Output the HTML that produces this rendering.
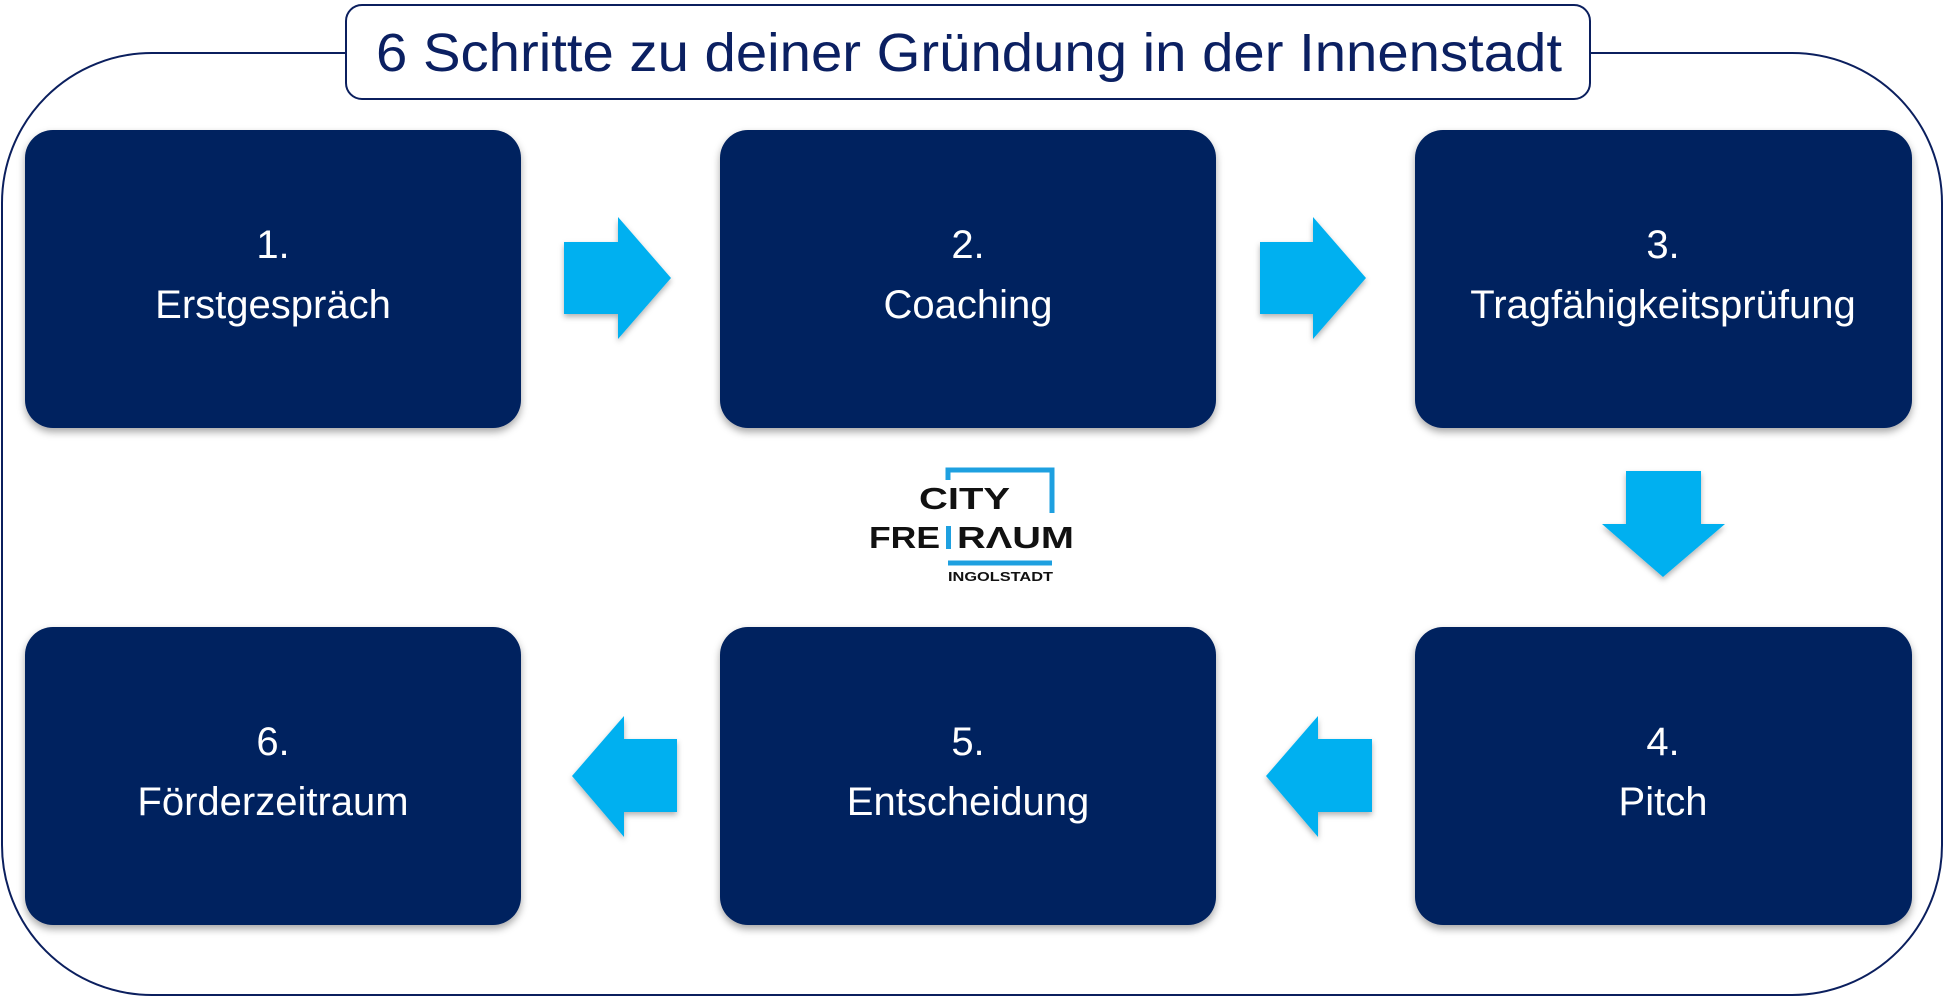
<!DOCTYPE html>
<html><head><meta charset="utf-8"><style>
html,body{margin:0;padding:0;background:#fff;}
svg{display:block;}
</style></head><body>
<svg width="1945" height="998" viewBox="0 0 1945 998" xmlns="http://www.w3.org/2000/svg">
<defs>
<filter id="sh" x="-10%" y="-10%" width="120%" height="125%">
<feDropShadow dx="0" dy="4" stdDeviation="4" flood-color="#000" flood-opacity="0.35"/>
</filter>
<filter id="sa" x="-20%" y="-20%" width="140%" height="140%">
<feDropShadow dx="0" dy="3" stdDeviation="3" flood-color="#000" flood-opacity="0.3"/>
</filter>
</defs>
<rect x="2" y="53" width="1940" height="942" rx="150" ry="150" fill="none" stroke="#0b1f5e" stroke-width="2"/>
<rect x="346" y="5" width="1244" height="94" rx="16" fill="#fff" stroke="#0b1f5e" stroke-width="2"/>
<text x="376" y="71" textLength="1186" lengthAdjust="spacingAndGlyphs" font-family="Liberation Sans, sans-serif" font-size="54" fill="#0b2062">6 Schritte zu deiner Gründung in der Innenstadt</text>

<g filter="url(#sh)" fill="#03205e">
<rect x="25" y="130" width="496" height="298" rx="28"/>
<rect x="720" y="130" width="496" height="298" rx="28"/>
<rect x="1415" y="130" width="497" height="298" rx="28"/>
<rect x="25" y="627" width="496" height="298" rx="28"/>
<rect x="720" y="627" width="496" height="298" rx="28"/>
<rect x="1415" y="627" width="497" height="298" rx="28"/>
</g>
<g font-family="Liberation Sans, sans-serif" font-size="40" fill="#fff" text-anchor="middle">
<text x="273" y="258">1.</text><text x="273" y="318">Erstgespräch</text>
<text x="968" y="258">2.</text><text x="968" y="318">Coaching</text>
<text x="1663" y="258">3.</text><text x="1663" y="318">Tragfähigkeitsprüfung</text>
<text x="1663" y="755">4.</text><text x="1663" y="815">Pitch</text>
<text x="968" y="755">5.</text><text x="968" y="815">Entscheidung</text>
<text x="273" y="755">6.</text><text x="273" y="815">Förderzeitraum</text>
</g>

<g fill="#00b0f0" filter="url(#sa)">
<polygon points="564,242 618,242 618,217 671,278 618,339 618,314 564,314"/>
<polygon points="1260,242 1313,242 1313,217 1366,278 1313,339 1313,314 1260,314"/>
<polygon points="1626,471 1701,471 1701,524 1725,524 1663,577 1602,524 1626,524"/>
<polygon points="677,739 624,739 624,716 572,776 624,837 624,812 677,812"/>
<polygon points="1372,739 1318,739 1318,716 1266,776 1318,837 1318,812 1372,812"/>
</g>

<g font-family="Liberation Sans, sans-serif" font-weight="bold" fill="#111">
<path d="M948,480 V470 H1052 V513" fill="none" stroke="#1ea0e0" stroke-width="5"/>
<line x1="948" y1="563" x2="1052" y2="563" stroke="#1ea0e0" stroke-width="5"/>
<rect x="946" y="526" width="5" height="23" fill="#1ea0e0"/>
<text x="919" y="509" textLength="91" lengthAdjust="spacingAndGlyphs" font-size="31">CITY</text>
<text x="869" y="548" textLength="71" lengthAdjust="spacingAndGlyphs" font-size="31">FRE</text>
<text x="957" y="548" textLength="117" lengthAdjust="spacingAndGlyphs" font-size="31">RΛUM</text>
<text x="948" y="581" textLength="105" lengthAdjust="spacingAndGlyphs" font-size="13">INGOLSTADT</text>
</g>
</svg>
</body></html>
